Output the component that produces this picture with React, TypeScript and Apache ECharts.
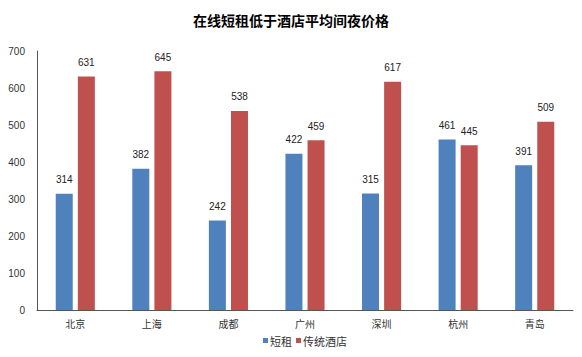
import React, { useEffect, useRef } from "react";
import * as echarts from "echarts";

const categories = ["北京", "上海", "成都", "广州", "深圳", "杭州", "青岛"];
const shortRent = [314, 382, 242, 422, 315, 461, 391];
const hotel = [631, 645, 538, 459, 617, 445, 509];
const seriesNames = ["短租", "传统酒店"];

export default function App() {
  const ref = useRef<HTMLDivElement>(null);
  useEffect(() => {
    const chart = echarts.init(ref.current!, null, { renderer: "svg" });
    const font = "'Microsoft YaHei', 'Noto Sans CJK SC', sans-serif";
    chart.setOption({
      animation: false,
      title: {
        text: "在线短租低于酒店平均间夜价格",
        left: "center",
        top: 8,
        textStyle: { fontSize: 14, fontWeight: "bold", color: "#000", fontFamily: font },
      },
      legend: {
        bottom: 6,
        left: 258,
        itemWidth: 5,
        itemHeight: 5,
        itemGap: 4,
        icon: "rect",
        textStyle: { fontSize: 11, color: "#333", fontFamily: font, padding: [0, 0, 0, -3] },
        data: seriesNames,
      },
      grid: { left: 37, right: 9, top: 51, bottom: 47, containLabel: false },
      xAxis: {
        type: "category",
        data: categories,
        axisLine: { lineStyle: { color: "#555" } },
        axisTick: { show: false },
        axisLabel: { fontSize: 10, color: "#333", fontFamily: font, margin: 8 },
      },
      yAxis: {
        type: "value",
        min: 0,
        max: 700,
        interval: 100,
        axisLine: { show: true, lineStyle: { color: "#555" } },
        axisTick: { show: false },
        splitLine: { show: false },
        axisLabel: { fontSize: 10, color: "#333", fontFamily: "Arial, 'Liberation Sans', sans-serif", margin: 12 },
      },
      series: [
        {
          name: seriesNames[0],
          type: "bar",
          data: shortRent,
          barWidth: 17,
          barGap: "30%",
          itemStyle: { color: "#4F81BD" },
          label: { show: true, position: "top", fontSize: 10, color: "#222", distance: 9 },
        },
        {
          name: seriesNames[1],
          type: "bar",
          data: hotel,
          barWidth: 17,
          barGap: "30%",
          itemStyle: { color: "#C0504D" },
          label: { show: true, position: "top", fontSize: 10, color: "#222", distance: 9 },
        },
      ],
    });
    return () => chart.dispose();
  }, []);
  return <div ref={ref} style={{ width: 582, height: 357, margin: -8 }} />;
}
